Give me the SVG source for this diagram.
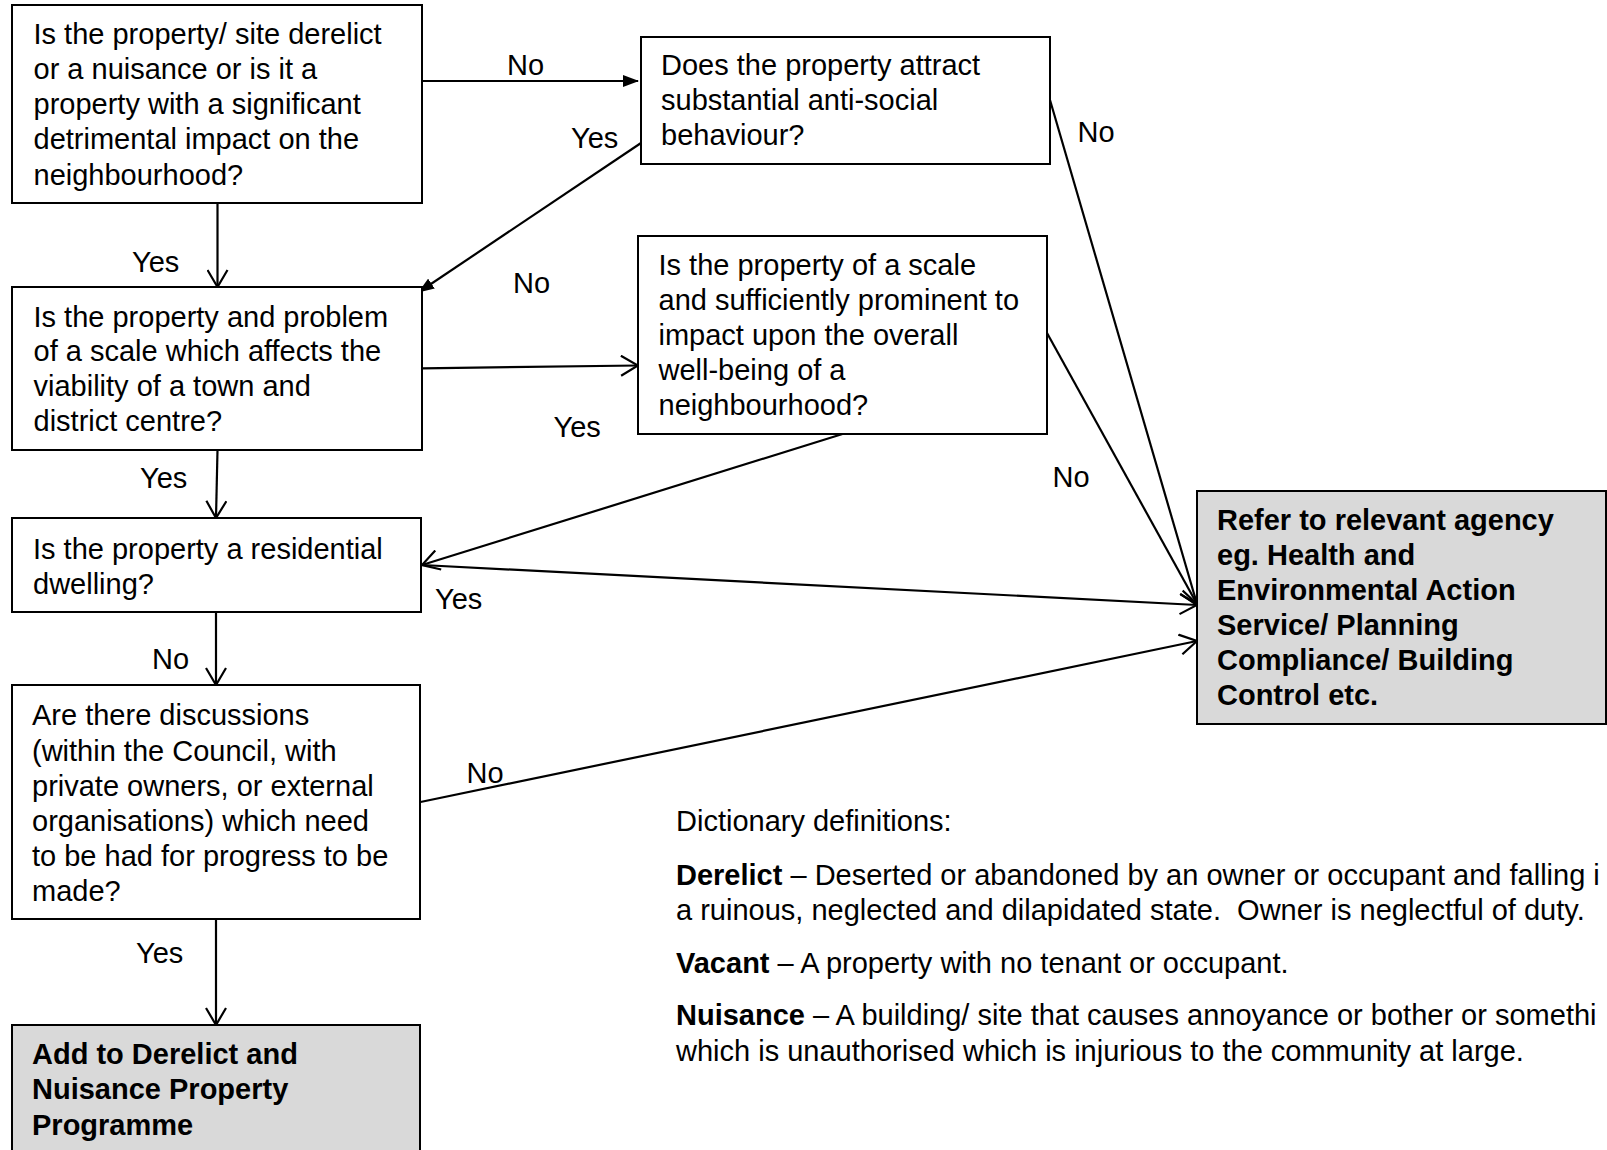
<svg xmlns="http://www.w3.org/2000/svg" width="1607" height="1150" viewBox="0 0 1607 1150">
<style>
.box{fill:#fff;stroke:#000;stroke-width:2}
.grey{fill:#d9d9d9;stroke:#000;stroke-width:2}
text{font-family:"Liberation Sans",Arial,sans-serif;font-size:29px;fill:#000}
.b{font-weight:bold}
.c{fill:none;stroke:#000;stroke-width:2.2}
</style>
<defs>
<marker id="open" markerUnits="userSpaceOnUse" viewBox="0 0 20 22" refX="18" refY="11" markerWidth="20" markerHeight="22" orient="auto">
<path d="M1,1 L18,11 L1,21" fill="none" stroke="#000" stroke-width="2.2"/>
</marker>
<marker id="fill" markerUnits="userSpaceOnUse" viewBox="0 0 16 12" refX="15" refY="6" markerWidth="16" markerHeight="12" orient="auto">
<path d="M0,0 L16,6 L0,12 z" fill="#000"/>
</marker>
</defs>
<rect width="1607" height="1150" fill="#fff"/>
<g id="connectors">
<path class="c" d="M422,81 L638,81" marker-end="url(#fill)"/>
<path class="c" d="M217.5,203 L217.5,287" marker-end="url(#open)"/>
<path class="c" d="M641,143 L419,292" marker-end="url(#fill)"/>
<path class="c" d="M422,368.3 L638,365.5" marker-end="url(#open)"/>
<path class="c" d="M217.5,450 L216,518" marker-end="url(#open)"/>
<path class="c" d="M842.5,434 L422,565" marker-end="url(#open)"/>
<path class="c" d="M422,565 L1197,605" marker-end="url(#open)"/>
<path class="c" d="M1050,100 L1197,604" marker-end="url(#open)"/>
<path class="c" d="M1047,333 L1197,604" marker-end="url(#open)"/>
<path class="c" d="M216,612 L216,685" marker-end="url(#open)"/>
<path class="c" d="M420.5,802 L1197,641" marker-end="url(#open)"/>
<path class="c" d="M216,919 L216,1025" marker-end="url(#open)"/>
<text x="507" y="75">No</text>
<text x="571" y="148">Yes</text>
<text x="132" y="272">Yes</text>
<text x="513" y="293">No</text>
<text x="140" y="488">Yes</text>
<text x="553.5" y="437">Yes</text>
<text x="1077.5" y="141.5">No</text>
<text x="1052.5" y="486.5">No</text>
<text x="435" y="608.5">Yes</text>
<text x="152" y="668.5">No</text>
<text x="466.5" y="782.5">No</text>
<text x="136" y="963">Yes</text>
</g>
<g id="q1">
<rect class="box" x="12" y="5" width="410" height="198"/>
<text x="33.5" y="44">Is the property/ site derelict</text>
<text x="33.5" y="79">or a nuisance or is it a</text>
<text x="33.5" y="114">property with a significant</text>
<text x="33.5" y="149">detrimental impact on the</text>
<text x="33.5" y="184.5">neighbourhood?</text>
</g>
<g id="q2">
<rect class="box" x="641" y="37" width="409" height="127"/>
<text x="661" y="75">Does the property attract</text>
<text x="661" y="110">substantial anti-social</text>
<text x="661" y="145">behaviour?</text>
</g>
<g id="q3">
<rect class="box" x="12" y="287" width="410" height="163"/>
<text x="33.5" y="326.5">Is the property and problem</text>
<text x="33.5" y="361.3">of a scale which affects the</text>
<text x="33.5" y="396">viability of a town and</text>
<text x="33.5" y="430.5">district centre?</text>
</g>
<g id="q4">
<rect class="box" x="638" y="236" width="409" height="198"/>
<text x="658.5" y="274.5">Is the property of a scale</text>
<text x="658.5" y="309.5">and sufficiently prominent to</text>
<text x="658.5" y="345">impact upon the overall</text>
<text x="658.5" y="380">well-being of a</text>
<text x="658.5" y="415">neighbourhood?</text>
</g>
<g id="q5">
<rect class="box" x="12" y="518" width="409" height="94"/>
<text x="33" y="558.5">Is the property a residential</text>
<text x="33" y="593.5">dwelling?</text>
</g>
<g id="q6">
<rect class="box" x="12" y="685" width="408" height="234"/>
<text x="32" y="725">Are there discussions</text>
<text x="32" y="760.5">(within the Council, with</text>
<text x="32" y="795.5">private owners, or external</text>
<text x="32" y="830.5">organisations) which need</text>
<text x="32" y="865.5">to be had for progress to be</text>
<text x="32" y="900.5">made?</text>
</g>
<g id="add">
<rect class="grey" x="12" y="1025" width="408" height="140"/>
<text class="b" x="32" y="1064">Add to Derelict and</text>
<text class="b" x="32" y="1099">Nuisance Property</text>
<text class="b" x="32" y="1134.5">Programme</text>
</g>
<g id="refer">
<rect class="grey" x="1197" y="491" width="409" height="233"/>
<text class="b" x="1217" y="530.3">Refer to relevant agency</text>
<text class="b" x="1217" y="565.3">eg. Health and</text>
<text class="b" x="1217" y="600">Environmental Action</text>
<text class="b" x="1217" y="635">Service/ Planning</text>
<text class="b" x="1217" y="670">Compliance/ Building</text>
<text class="b" x="1217" y="705">Control etc.</text>
</g>
<g id="definitions">
<text x="676" y="831">Dictionary definitions:</text>
<text x="676" y="885"><tspan class="b">Derelict</tspan> – Deserted or abandoned by an owner or occupant and falling i</text>
<text x="676" y="920">a ruinous, neglected and dilapidated state.&#160; Owner is neglectful of duty.</text>
<text x="676" y="973"><tspan class="b">Vacant</tspan> – A property with no tenant or occupant.</text>
<text x="676" y="1024.5"><tspan class="b">Nuisance</tspan> – A building/ site that causes annoyance or bother or somethi</text>
<text x="676" y="1060.5">which is unauthorised which is injurious to the community at large.</text>
</g>
</svg>
